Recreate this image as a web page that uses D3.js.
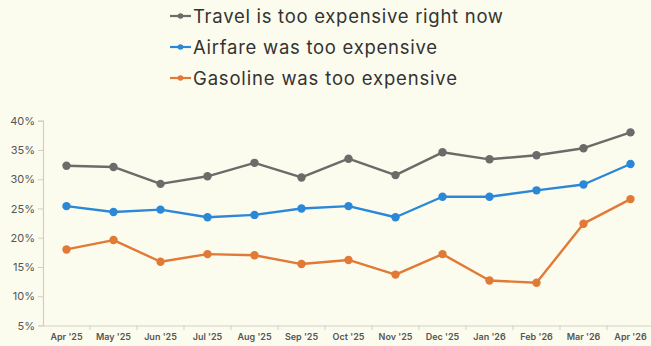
<!DOCTYPE html>
<html><head><meta charset="utf-8">
<script src="https://cdn.jsdelivr.net/npm/d3@7"></script>
<style>
html,body{margin:0;padding:0;background:#fcfcee;}
svg{display:block;}
</style></head>
<body>
<svg id="chart" width="651" height="346"></svg>
<script>
const months = ["Apr '25","May '25","Jun '25","Jul '25","Aug '25","Sep '25","Oct '25","Nov '25","Dec '25","Jan '26","Feb '26","Mar '26","Apr '26"];
const travel = [32.3,32.1,29.2,30.5,32.8,30.3,33.5,30.7,34.6,33.4,34.1,35.3,38.0];
const airfare = [25.4,24.4,24.8,23.5,23.9,25.0,25.4,23.5,27.0,27.0,28.1,29.1,32.6];
const gasoline = [18.0,19.6,15.9,17.2,17.0,15.5,16.2,13.7,17.2,12.7,12.3,22.4,26.6];
const yTicks = [5,10,15,20,25,30,35,40];
const seriesNames = ["Travel is too expensive right now","Airfare was too expensive","Gasoline was too expensive"];
const colors = ["#6b6b69","#2b87d8","#e07a36"];

const svg = d3.select("#chart");
svg.append("rect").attr("width",651).attr("height",346).attr("fill","#fcfcee");

const x = d3.scaleBand().domain(months).range([43,654]).padding(0);
const y = d3.scaleLinear().domain([5,40]).range([325.5,120.7]);

// y axis
const yAxis = svg.append("g").attr("transform","translate(43,0)")
  .call(d3.axisLeft(y).tickValues(yTicks).tickFormat(d=>d+"%").tickSize(5).tickPadding(3));
yAxis.select(".domain").attr("stroke","#cfcfc6").attr("stroke-width",1.2);
yAxis.selectAll(".tick line").attr("stroke","#cfcfc6");
yAxis.selectAll("text").attr("fill","#555").attr("font-family","Inter, 'Noto Sans', sans-serif").attr("font-size","11px");

// x axis
const xAxis = svg.append("g").attr("transform","translate(0,325.5)")
  .call(d3.axisBottom(x).tickSize(0).tickPadding(8));
xAxis.select(".domain").attr("stroke","#cfcfc6").attr("stroke-width",1.2);
xAxis.selectAll("text").attr("fill","#555").attr("font-family","Inter, 'Noto Sans', sans-serif").attr("font-size","9px").attr("font-weight","600");
// boundary ticks between categories
const bounds = months.slice(1).map(m=>x(m));
svg.append("g").selectAll("line").data(bounds).join("line")
  .attr("x1",d=>d).attr("x2",d=>d).attr("y1",325.5).attr("y2",330)
  .attr("stroke","#cfcfc6");

const data = [travel, airfare, gasoline];
const cx = m => x(m) + x.bandwidth()/2;
const line = d3.line().x((d,i)=>cx(months[i])).y(d=>y(d));
data.forEach((s,k)=>{
  svg.append("path").datum(s).attr("d",line).attr("fill","none")
    .attr("stroke",colors[k]).attr("stroke-width",2.4).attr("stroke-linejoin","round");
  svg.append("g").selectAll("circle").data(s).join("circle")
    .attr("cx",(d,i)=>cx(months[i])).attr("cy",d=>y(d)).attr("r",4.2)
    .attr("fill",colors[k]);
});

// legend
const legY = [16,47,78];
const legW = [310,244,264];
const leg = svg.append("g");
seriesNames.forEach((n,k)=>{
  const g = leg.append("g").attr("transform",`translate(0,${legY[k]})`);
  g.append("line").attr("x1",170).attr("x2",191).attr("y1",0).attr("y2",0)
    .attr("stroke",colors[k]).attr("stroke-width",2.2);
  g.append("circle").attr("cx",180.5).attr("cy",0).attr("r",2.8).attr("fill",colors[k]);
  g.append("text").attr("x",193).attr("y",0).attr("dy","0.36em")
    .attr("font-family","Inter, 'Noto Sans', sans-serif").attr("font-size","18.5px")
    .attr("textLength",legW[k]).attr("lengthAdjust","spacing")
    .attr("fill","#333").text(n);
});
</script>
</body></html>
